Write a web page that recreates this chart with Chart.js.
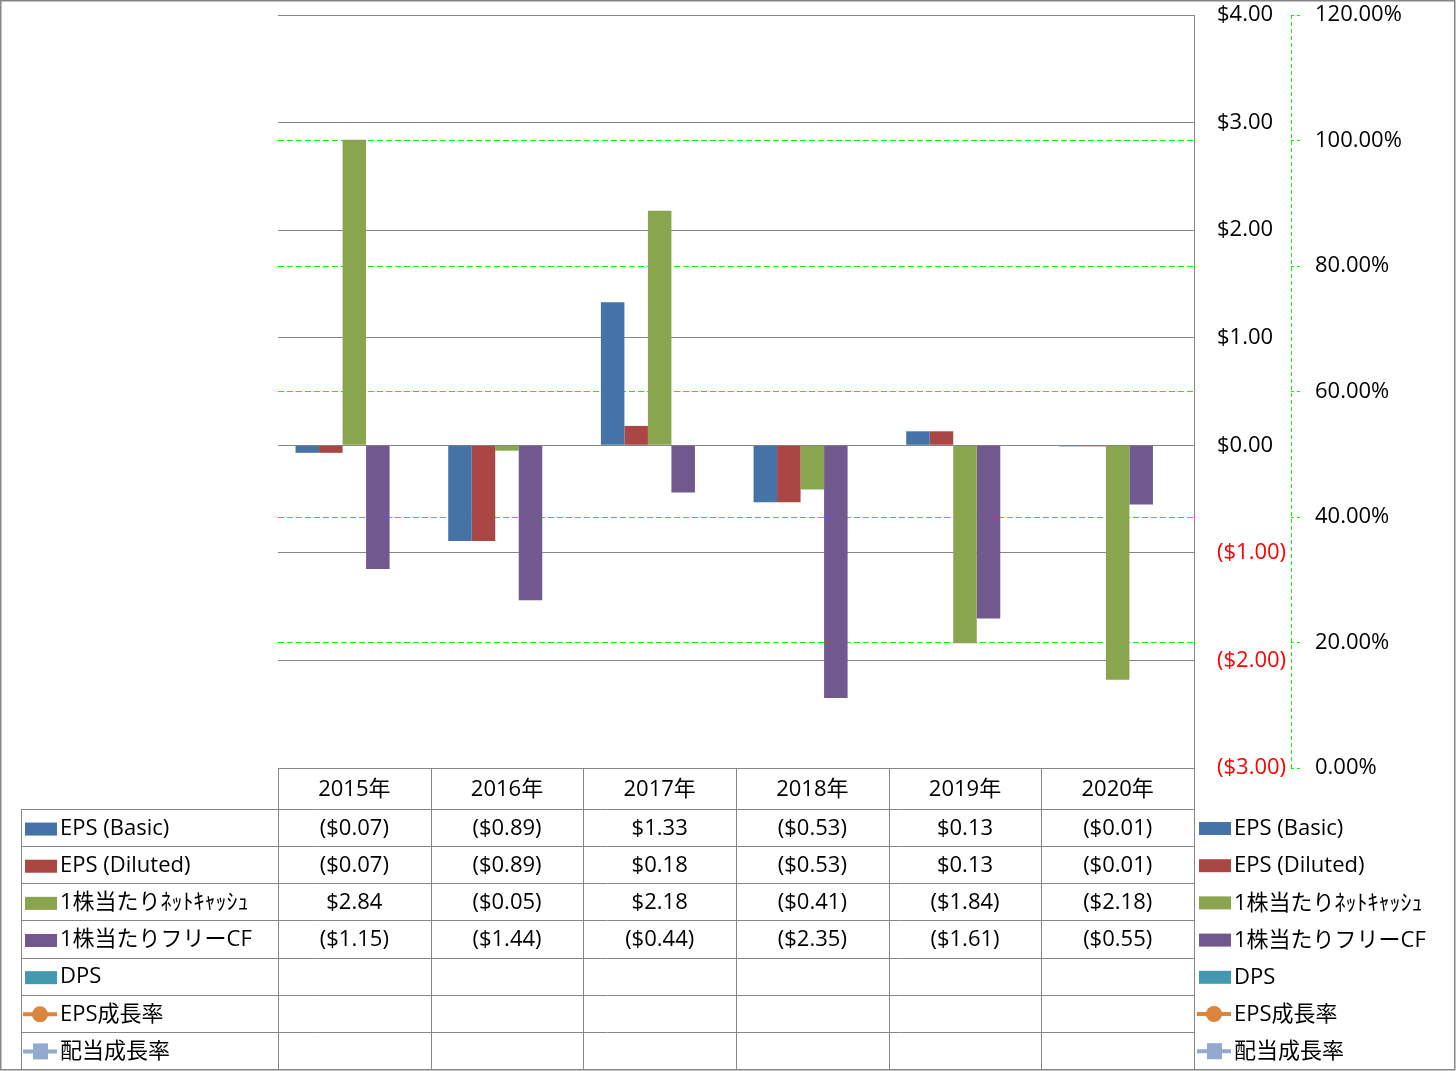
<!DOCTYPE html>
<html>
<head>
<meta charset="utf-8">
<script src="https://cdn.jsdelivr.net/npm/chart.js@4.4.1/dist/chart.umd.min.js"></script>
<style>
  html, body { margin: 0; padding: 0; background: #fff; }
  #wrap { width: 1456px; height: 1071px; }
</style>
</head>
<body>
<div id="wrap"><canvas id="chart" width="1456" height="1071"></canvas></div>
<script>
const years = ["2015年", "2016年", "2017年", "2018年", "2019年", "2020年"]
const epsBasic = [-0.07, -0.89, 1.33, -0.53, 0.13, -0.01]
const epsDiluted = [-0.07, -0.89, 0.18, -0.53, 0.13, -0.01]
const netCash = [2.84, -0.05, 2.18, -0.41, -1.84, -2.18]
const freeCf = [-1.15, -1.44, -0.44, -2.35, -1.61, -0.55]
const dps = [null, null, null, null, null, null]
const epsGrowth = [null, null, null, null, null, null]
const divGrowth = [null, null, null, null, null, null]
const dollarMin = -3
const dollarMax = 4
const pctMin = 0
const pctMax = 1.2

const fontFamily = '"Open Sans", "Noto Sans CJK JP", sans-serif'
const gridGray = "#868686"
const dashGreen = "#00FF00"

function money(v) {
  if (v === null || v === undefined) return ""
  const s = "$" + Math.abs(v).toFixed(2)
  return v < 0 ? "(" + s + ")" : s
}

// table under the plot + legend on the right + outer frame
const tablePlugin = {
  id: "dataTable",
  afterDraw(chart) {
    const ctx = chart.ctx
    const xs = chart.scales.x
    const y1 = chart.scales.y1
    const area = chart.chartArea
    const colW = (xs.right - xs.left) / years.length
    const top = area.bottom
    const headH = 41
    const rowH = (1069 - top - headH) / chart.data.datasets.length
    const labelLeft = 21

    ctx.save()
    // dashed axis line of the percent axis
    ctx.strokeStyle = dashGreen
    ctx.lineWidth = 1
    ctx.setLineDash([4, 3])
    ctx.beginPath()
    ctx.moveTo(Math.round(y1.left) + 0.5, y1.top)
    ctx.lineTo(Math.round(y1.left) + 0.5, y1.bottom)
    ctx.stroke()
    ctx.setLineDash([])

    ctx.strokeStyle = gridGray
    ctx.lineWidth = 1
    ctx.beginPath()
    for (let i = 0; i <= years.length; i++) {
      const x = Math.round(xs.left + i * colW) + 0.5
      ctx.moveTo(x, top)
      ctx.lineTo(x, 1069)
    }
    for (let r = 0; r <= chart.data.datasets.length; r++) {
      const y = Math.round(top + headH + r * rowH) + 0.5
      ctx.moveTo(labelLeft, y)
      ctx.lineTo(xs.right, y)
    }
    ctx.moveTo(labelLeft + 0.5, top + headH)
    ctx.lineTo(labelLeft + 0.5, 1069)
    ctx.stroke()

    ctx.font = "22px " + fontFamily
    ctx.fillStyle = "#000"
    ctx.textBaseline = "middle"
    ctx.textAlign = "center"
    years.forEach((yr, i) => {
      ctx.fillText(yr, xs.getPixelForValue(i), top + headH / 2 + 1)
    })

    chart.data.datasets.forEach((ds, r) => {
      const cy = top + headH + r * rowH + rowH / 2 + 1
      ctx.textAlign = "center"
      ctx.fillStyle = "#000"
      ds.data.forEach((v, i) => {
        if (ds.type !== "line") ctx.fillText(money(v), xs.getPixelForValue(i), cy)
      })
      drawKey(ctx, ds, 23, cy)
      ctx.textAlign = "left"
      ctx.fillStyle = "#000"
      ctx.fillText(ds.label, 60, cy)

      // right legend
      const ly = 828 + r * 37.2
      drawKey(ctx, ds, 1197, ly)
      ctx.textAlign = "left"
      ctx.fillStyle = "#000"
      ctx.fillText(ds.label, 1234, ly + 1)
    })

    // frame
    ctx.strokeStyle = gridGray
    ctx.lineWidth = 1.5
    ctx.strokeRect(0.75, 0.75, 1454, 1069)
    ctx.restore()
  }
}

function drawKey(ctx, ds, x, cy) {
  if (ds.type === "line") {
    ctx.strokeStyle = ds.borderColor
    ctx.fillStyle = ds.backgroundColor
    ctx.lineWidth = 4
    ctx.beginPath()
    ctx.moveTo(x, cy)
    ctx.lineTo(x + 34, cy)
    ctx.stroke()
    if (ds.pointStyle === "rect") {
      ctx.fillRect(x + 10, cy - 8, 15, 16)
    } else {
      ctx.beginPath()
      ctx.arc(x + 17, cy, 8, 0, Math.PI * 2)
      ctx.fill()
    }
  } else {
    ctx.fillStyle = ds.backgroundColor
    ctx.fillRect(x + 2, cy - 6, 32, 13)
  }
}

function noPad(scale) {
  scale.paddingTop = 0
  scale.paddingBottom = 0
}

Chart.defaults.font.family = fontFamily
Chart.defaults.font.size = 22
Chart.defaults.color = "#000"

new Chart(document.getElementById("chart"), {
  type: "bar",
  data: {
    labels: years,
    datasets: [
      { label: "EPS (Basic)", data: epsBasic, backgroundColor: "#4572A7", yAxisID: "y" },
      { label: "EPS (Diluted)", data: epsDiluted, backgroundColor: "#AA4643", yAxisID: "y" },
      { label: "1株当たりﾈｯﾄｷｬｯｼｭ", data: netCash, backgroundColor: "#89A54E", yAxisID: "y" },
      { label: "1株当たりフリーCF", data: freeCf, backgroundColor: "#71588F", yAxisID: "y" },
      { label: "DPS", data: dps, backgroundColor: "#4198AF", yAxisID: "y" },
      { type: "line", label: "EPS成長率", data: epsGrowth, borderColor: "#DB843D", backgroundColor: "#DB843D", pointStyle: "circle", yAxisID: "y1" },
      { type: "line", label: "配当成長率", data: divGrowth, borderColor: "#93A9CF", backgroundColor: "#93A9CF", pointStyle: "rect", yAxisID: "y1" }
    ]
  },
  options: {
    responsive: false,
    devicePixelRatio: 1,
    animation: false,
    categoryPercentage: 0.77,
    barPercentage: 1.0,
    layout: { padding: { left: 278, top: 15, right: 0, bottom: 303 } },
    plugins: {
      legend: { display: false },
      tooltip: { enabled: false }
    },
    scales: {
      x: { display: false },
      y: {
        position: "right",
        weight: 0,
        min: dollarMin,
        max: dollarMax,
        afterFit(scale) { scale.width = 97; noPad(scale) },
        ticks: {
          stepSize: 1,
          padding: 23,
          callback: v => money(v),
          color: c => (c.tick && c.tick.value < 0 ? "#FF0000" : "#000")
        },
        grid: { color: gridGray, lineWidth: 1, drawTicks: false },
        border: { display: true, color: gridGray, width: 1 }
      },
      y1: {
        position: "right",
        weight: 1,
        min: pctMin,
        max: pctMax,
        afterFit(scale) { scale.width = 165; noPad(scale) },
        ticks: {
          stepSize: 0.2,
          padding: 15,
          callback: v => (v * 100).toFixed(2) + "%"
        },
        grid: {
          color: c => (c.tick && (c.tick.value > 1.19 || c.tick.value < 0.01) ? "rgba(0,0,0,0)" : dashGreen),
          lineWidth: 1,
          drawTicks: true,
          tickLength: 9,
          tickColor: dashGreen,
          tickBorderDash: [3, 3]
        },
        border: { display: false, dash: [6, 3] }
      }
    }
  },
  plugins: [tablePlugin]
})
</script>
</body>
</html>
